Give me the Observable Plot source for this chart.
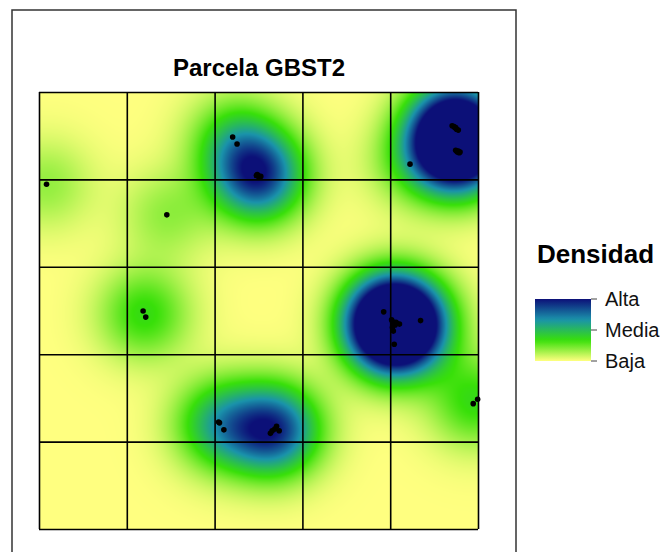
<!DOCTYPE html>
<html><head><meta charset="utf-8">
<script src="https://cdn.jsdelivr.net/npm/d3@7"></script>
<script src="https://cdn.jsdelivr.net/npm/@observablehq/plot@0.6"></script>
<style>body{margin:0;background:#fff;} #chart{position:relative;width:664px;height:552px;overflow:hidden;}</style>
</head><body><div id="chart"></div>
<script>
// ---- data ----
const chartTitle = "Parcela GBST2";
const legendTitle = "Densidad";
const legendLabels = ["Alta", "Media", "Baja"];
const paletteColors = ["#FFFF80", "#38E009", "#1A93AB", "#0C1078"];
const gridTicks = [0, 10, 20, 30, 40, 50];
// tree positions (m) in the 50 x 50 m plot (overlapping trees included)
const treeX = [0.8, 14.5,
  22.0, 22.5, 24.7, 25.0, 25.2, 24.9, 24.8,
  42.2,
  47.0, 47.2, 47.3, 47.5, 47.7, 47.4,
  47.4, 47.5, 47.6, 47.8, 47.9, 47.7,
  11.8, 12.1,
  39.2, 40.1, 40.4, 41.0, 40.2, 40.3, 40.4, 43.4, 40.6, 40.2, 40.5, 40.7, 40.3,
  49.4, 49.9,
  20.4, 20.5, 21.0,
  26.3, 26.5, 27.0, 27.3, 26.8];
const treeY = [39.5, 36.0,
  44.9, 44.1, 40.5, 40.3, 40.4, 40.5, 40.6,
  41.8,
  46.2, 46.1, 46.0, 45.8, 45.7, 46.0,
  43.4, 43.3, 43.2, 43.1, 43.2, 43.3,
  25.0, 24.3,
  24.9, 24.0, 23.6, 23.5, 23.1, 22.7, 21.2, 23.9, 23.7, 23.8, 23.4, 23.6, 23.5,
  14.4, 14.9,
  12.3, 12.2, 11.4,
  11.0, 11.3, 11.8, 11.3, 11.5];
const bandwidth = 3.6;
const densityMax = 5.6;

// ---- chart ----
const pts = treeX.map((x, i) => ({x, y: treeY[i]}));
const s2 = 2 * bandwidth * bandwidth;
function density(x, y) {
  let s = 0;
  for (const p of pts) { const dx = x - p.x, dy = y - p.y; s += Math.exp(-(dx * dx + dy * dy) / s2); }
  return s;
}
const font = "'Liberation Sans', Arial, sans-serif";
const plot = Plot.plot({
  width: 664, height: 552,
  marginLeft: 39, marginRight: 186, marginTop: 92, marginBottom: 23,
  style: {fontFamily: font, background: "#fff"},
  x: {domain: [0, 50], axis: null},
  y: {domain: [0, 50], axis: null},
  color: {type: "linear", domain: [0, densityMax / 3, 2 * densityMax / 3, densityMax], range: paletteColors, clamp: true, interpolate: "rgb"},
  marks: [
    Plot.raster({x1: 0, y1: 0, x2: 50, y2: 50, fill: density, pixelSize: 1}),
    Plot.ruleX(gridTicks, {stroke: "#000", strokeWidth: 1.6}),
    Plot.ruleY(gridTicks, {stroke: "#000", strokeWidth: 1.6}),
    Plot.dot(pts, {x: "x", y: "y", r: 2.8, fill: "#000"}),
    Plot.text([chartTitle], {frameAnchor: "top", lineAnchor: "middle", dy: -24, fontSize: 24, fontWeight: "bold", fill: "#000"})
  ]
});
document.getElementById("chart").appendChild(plot);

// legend + outer frame
const cscale = Plot.scale({color: plot.scale("color")});
const svg = d3.select(plot);
const defs = svg.append("defs");
const grad = defs.append("linearGradient").attr("id", "dgrad").attr("x1", 0).attr("y1", 0).attr("x2", 0).attr("y2", 1);
d3.range(0, 21).forEach(i => {
  const t = i / 20;
  grad.append("stop").attr("offset", t).attr("stop-color", cscale.apply(densityMax * (1 - t)));
});
const lg = svg.append("g").attr("text-anchor", "start");
const lx = 535, ly = 299, lw = 56, lh = 62;
lg.append("rect").attr("x", lx).attr("y", ly).attr("width", lw).attr("height", lh).attr("fill", "url(#dgrad)");
legendLabels.forEach((lab, i) => {
  const y = ly + i * lh / 2;
  lg.append("line").attr("x1", lx + lw).attr("x2", lx + lw + 6).attr("y1", y).attr("y2", y).attr("stroke", "#444").attr("stroke-width", 1);
  lg.append("text").attr("x", lx + lw + 14).attr("y", y).attr("dy", "0.35em").attr("font-size", 20).attr("font-family", font).attr("fill", "#111").text(lab);
});
lg.append("text").attr("x", 537).attr("y", 263).attr("font-size", 26).attr("font-weight", "bold").attr("font-family", font).attr("fill", "#000").text(legendTitle);
svg.append("path").attr("d", "M12,560V10H516V560").attr("fill", "none").attr("stroke", "#333").attr("stroke-width", 1.5);
</script>
</body></html>
